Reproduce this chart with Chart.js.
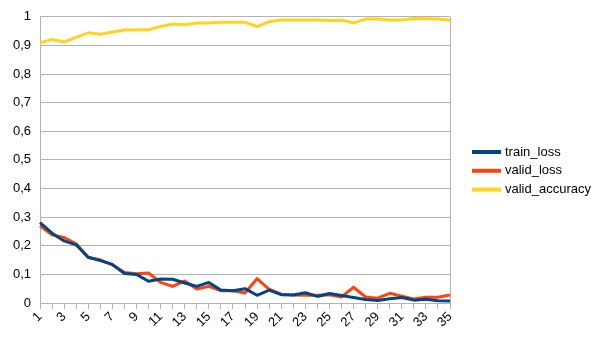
<!DOCTYPE html>
<html>
<head>
<meta charset="utf-8">
<script src="https://cdn.jsdelivr.net/npm/chart.js@4/dist/chart.umd.min.js"></script>
<style>
  html, body { margin: 0; padding: 0; background: #fff; }
  #wrap { width: 605px; height: 340px; }
</style>
</head>
<body>
<div id="wrap"><canvas id="chart" width="605" height="340"></canvas></div>
<script>
// epochs 1..35
const epochs = Array.from({ length: 35 }, (_, i) => String(i + 1));

const trainLoss = [0.281, 0.244, 0.217, 0.203, 0.160, 0.148, 0.135, 0.103, 0.100, 0.076,
  0.084, 0.083, 0.070, 0.058, 0.072, 0.045, 0.043, 0.050, 0.027, 0.045,
  0.029, 0.028, 0.036, 0.023, 0.033, 0.026, 0.019, 0.012, 0.009, 0.015,
  0.019, 0.010, 0.013, 0.008, 0.007];

const validLoss = [0.270, 0.238, 0.229, 0.207, 0.159, 0.151, 0.133, 0.107, 0.102, 0.105,
  0.072, 0.058, 0.077, 0.049, 0.058, 0.043, 0.043, 0.035, 0.085, 0.048,
  0.031, 0.028, 0.027, 0.027, 0.029, 0.021, 0.055, 0.021, 0.017, 0.034,
  0.024, 0.014, 0.020, 0.020, 0.028];

const validAcc = [0.909, 0.921, 0.912, 0.928, 0.944, 0.939, 0.947, 0.954, 0.955, 0.955,
  0.966, 0.975, 0.972, 0.978, 0.978, 0.981, 0.981, 0.981, 0.966, 0.983,
  0.989, 0.989, 0.989, 0.989, 0.987, 0.988, 0.979, 0.992, 0.992, 0.989,
  0.989, 0.994, 0.993, 0.992, 0.988];

const seriesNames = ['train_loss', 'valid_loss', 'valid_accuracy'];
const seriesColors = ['#004586', '#ff420e', '#ffd320'];

const gridGray = '#b3b3b3';
const font = { family: '"Liberation Sans", Arial, sans-serif', size: 13 };

// legend drawn on the right like the spreadsheet one
const sideLegend = {
  id: 'sideLegend',
  afterDraw(chart) {
    const c = chart.ctx;
    c.save();
    c.font = '13px "Liberation Sans", Arial, sans-serif';
    c.textBaseline = 'middle';
    c.fillStyle = '#000';
    chart.data.datasets.forEach((ds, i) => {
      const y = 152 + i * 18.8;
      c.strokeStyle = ds.borderColor;
      c.lineWidth = 4;
      c.beginPath();
      c.moveTo(472, y);
      c.lineTo(501, y);
      c.stroke();
      c.fillText(ds.label, 505, y);
    });
    c.restore();
  }
};

const ctx = document.getElementById('chart').getContext('2d');
new Chart(ctx, {
  type: 'line',
  data: {
    labels: epochs,
    datasets: [trainLoss, validLoss, validAcc].map((d, i) => ({
      label: seriesNames[i],
      data: d,
      borderColor: seriesColors[i],
      backgroundColor: seriesColors[i],
      borderWidth: 3,
      pointRadius: 0,
      tension: 0,
      borderJoinStyle: 'round'
    }))
  },
  options: {
    responsive: false,
    animation: false,
    layout: { padding: { top: 7, right: 155, bottom: 0, left: 0 } },
    plugins: { legend: { display: false }, tooltip: { enabled: false } },
    scales: {
      x: {
        offset: false,
        border: { display: false },
        grid: {
          drawOnChartArea: true,
          color: c => (c.index === 34 ? gridGray : 'rgba(0,0,0,0)'),
          tickColor: gridGray,
          tickLength: 6,
          lineWidth: 1
        },
        ticks: {
          autoSkip: false,
          minRotation: 45,
          maxRotation: 45,
          padding: 0,
          color: '#000',
          font: font,
          callback: function (v, i) { return i % 2 === 0 ? this.getLabelForValue(v) : ''; }
        },
        afterFit: s => { s.height = 37; }
      },
      y: {
        min: 0,
        max: 1,
        border: { display: true, color: gridGray },
        grid: { color: gridGray, drawTicks: false },
        ticks: {
          stepSize: 0.1,
          padding: 9,
          color: '#000',
          font: font,
          callback: v => String(Math.round(v * 10) / 10).replace('.', ',')
        },
        afterFit: s => { s.width = 40; }
      }
    }
  },
  plugins: [sideLegend]
});
</script>
</body>
</html>
